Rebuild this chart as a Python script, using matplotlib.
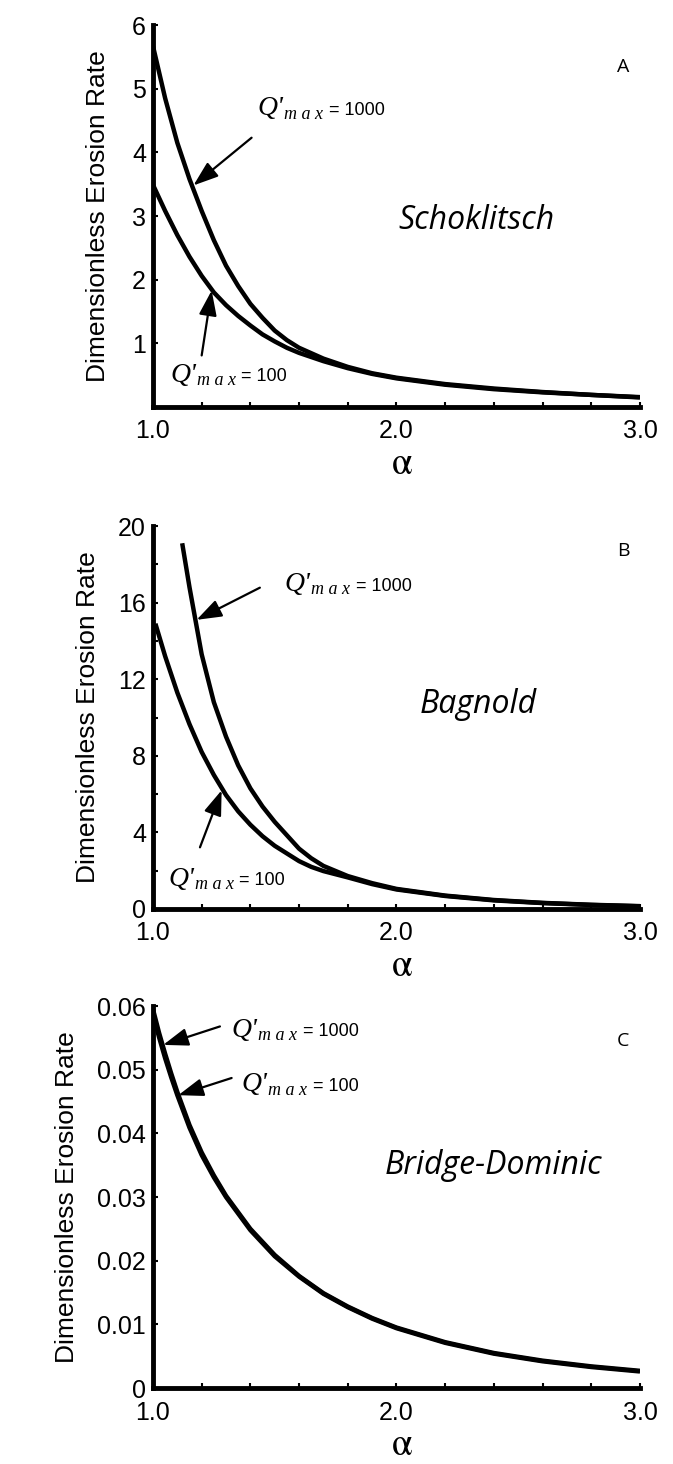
import matplotlib.pyplot as plt
from matplotlib.ticker import FixedLocator, MultipleLocator

plt.rcParams['mathtext.fontset'] = 'stix'
plt.rcParams['font.family'] = 'Liberation Sans'

# %% Data
# A: Schoklitsch
alpha_a = [1.0, 1.05, 1.1, 1.15, 1.2, 1.25, 1.3, 1.35, 1.4, 1.45, 1.5, 1.55,
           1.6, 1.7, 1.8, 1.9, 2.0, 2.2, 2.4, 2.6, 2.8, 3.0]
schok_1000 = [5.67, 4.85, 4.15, 3.58, 3.08, 2.62, 2.22, 1.9, 1.62, 1.4, 1.2, 1.05,
              0.93, 0.76, 0.63, 0.53, 0.46, 0.36, 0.29, 0.235, 0.19, 0.155]
schok_100 = [3.49, 3.08, 2.70, 2.36, 2.06, 1.80, 1.60, 1.43, 1.28, 1.14, 1.03, 0.93,
             0.85, 0.72, 0.61, 0.52, 0.45, 0.35, 0.28, 0.23, 0.19, 0.15]

# B: Bagnold (Q'max = 1000 curve starts off the top of the axes)
alpha_b_1000 = [1.12, 1.15, 1.2, 1.25, 1.3, 1.35, 1.4, 1.45, 1.5, 1.55, 1.6,
                1.65, 1.7, 1.8, 1.9, 2.0, 2.2, 2.4, 2.6, 2.8, 3.0]
bagnold_1000 = [19.1, 16.8, 13.3, 10.8, 9.0, 7.5, 6.3, 5.35, 4.55, 3.85, 3.15,
                2.65, 2.25, 1.72, 1.35, 1.05, 0.7, 0.47, 0.32, 0.22, 0.15]
alpha_b_100 = [1.01, 1.05, 1.1, 1.15, 1.2, 1.25, 1.3, 1.35, 1.4, 1.45, 1.5, 1.55,
               1.6, 1.65, 1.7, 1.8, 1.9, 2.0, 2.2, 2.4, 2.6, 2.8, 3.0]
bagnold_100 = [14.9, 13.2, 11.3, 9.65, 8.2, 7.0, 5.95, 5.1, 4.4, 3.8, 3.3, 2.9,
               2.5, 2.2, 1.98, 1.65, 1.3, 1.02, 0.68, 0.45, 0.31, 0.21, 0.14]

# C: Bridge-Dominic
alpha_c = [1.0, 1.025, 1.05, 1.075, 1.1, 1.15, 1.2, 1.25, 1.3, 1.4, 1.5, 1.6,
           1.7, 1.8, 1.9, 2.0, 2.2, 2.4, 2.6, 2.8, 3.0]
bd_1000 = [0.0595, 0.0558, 0.0525, 0.0494, 0.0465, 0.0413, 0.0370, 0.0334, 0.0302,
           0.0250, 0.0209, 0.0176, 0.0149, 0.0128, 0.0110, 0.0095, 0.0072, 0.0055,
           0.0043, 0.0034, 0.0027]
bd_100 = [0.0587, 0.0551, 0.0518, 0.0488, 0.0460, 0.0409, 0.0366, 0.0331, 0.0300,
          0.0248, 0.0207, 0.0175, 0.0148, 0.0127, 0.0109, 0.0094, 0.0071, 0.0054,
          0.0042, 0.0033, 0.0026]

x_ticks = [1.0, 2.0, 3.0]
x_ticklabels = ['1.0', '2.0', '3.0']

# %% Figure and axes
fig = plt.figure(figsize=(6.73, 14.64), dpi=100)
ax_a = fig.add_axes([0.2273, 0.7220, 0.7236, 0.2609])
ax_b = fig.add_axes([0.2273, 0.3791, 0.7236, 0.2616])
ax_c = fig.add_axes([0.2273, 0.0519, 0.7236, 0.2609])


def style_axes(ax, ylim, yticks, yticklabels, yminor, label_x):
    ax.set_xlim(1.0, 3.0)
    ax.set_ylim(*ylim)
    for side in ['top', 'right']:
        ax.spines[side].set_visible(False)
    for side in ['left', 'bottom']:
        ax.spines[side].set_linewidth(3.5)
        ax.spines[side].set_capstyle('projecting')
    ax.xaxis.set_major_locator(FixedLocator(x_ticks))
    ax.set_xticklabels(x_ticklabels)
    ax.xaxis.set_minor_locator(MultipleLocator(0.2))
    ax.yaxis.set_major_locator(FixedLocator(yticks))
    ax.set_yticklabels(yticklabels)
    if yminor:
        ax.yaxis.set_minor_locator(MultipleLocator(yminor))
    ax.tick_params(axis='both', which='both', direction='in', width=1.5,
                   length=3.5, labelsize=18)
    ax.tick_params(axis='x', pad=9)
    ax.tick_params(axis='y', pad=5)
    # alpha is placed by its baseline so the glyph hugs the tick labels
    ax.set_xlabel(r'$\mathrm{\alpha}$', fontsize=27, va='baseline')
    ax.xaxis.set_label_coords(0.512, -0.175)
    ax.set_ylabel('Dimensionless Erosion Rate', fontsize=19, va='center')
    ax.yaxis.set_label_coords(label_x, 0.5)


def q_label(ax, x, y, value):
    # Q' in Times italic, "max" as a lowered italic subscript, then "= value"
    t1 = ax.text(x, y, "Q'", fontsize=20, family='Liberation Serif',
                 style='italic', va='baseline', ha='left')
    t2 = ax.annotate('m a x', xy=(1, 0), xycoords=t1, xytext=(0.5, 2.0),
                     textcoords='offset points', fontsize=13,
                     family='Liberation Serif', style='italic', va='baseline')
    ax.annotate('= ' + value, xy=(1, 0), xycoords=t2, xytext=(4, 5.5),
                textcoords='offset points', fontsize=13, va='baseline')


def arrow(ax, tail, head):
    ax.annotate('', xy=head, xytext=tail,
                arrowprops=dict(arrowstyle='-|>,head_length=0.9,head_width=0.32',
                                color='black', lw=1.6, mutation_scale=17,
                                shrinkA=0, shrinkB=0))


# %% Panel A
ax_a.plot(alpha_a, schok_1000, color='black', lw=3.2, solid_capstyle='butt')
ax_a.plot(alpha_a, schok_100, color='black', lw=3.2, solid_capstyle='butt')
style_axes(ax_a, (0, 6), [1, 2, 3, 4, 5, 6], ['1', '2', '3', '4', '5', '6'],
           None, -0.113)
arrow(ax_a, (1.405, 4.23), (1.166, 3.48))
arrow(ax_a, (1.20, 0.81), (1.241, 1.83))
q_label(ax_a, 1.43, 4.58, '1000')
q_label(ax_a, 1.07, 0.40, '100')
ax_a.text(2.33, 2.93, 'Schoklitsch', style='italic', fontsize=23,
          family='Open Sans', ha='center', va='center')
ax_a.text(2.93, 5.34, 'A', fontsize=14, family='Open Sans', ha='center', va='center')

# %% Panel B
ax_b.plot(alpha_b_1000, bagnold_1000, color='black', lw=3.2, solid_capstyle='butt')
ax_b.plot(alpha_b_100, bagnold_100, color='black', lw=3.2, solid_capstyle='butt')
style_axes(ax_b, (0, 20), [0, 4, 8, 12, 16, 20],
           ['0', '4', '8', '12', '16', '20'], 2, -0.133)
arrow(ax_b, (1.439, 16.78), (1.179, 15.1))
arrow(ax_b, (1.193, 3.22), (1.282, 6.2))
q_label(ax_b, 1.54, 16.6, '1000')
q_label(ax_b, 1.063, 1.22, '100')
ax_b.text(2.335, 10.67, 'Bagnold', style='italic', fontsize=23,
          family='Open Sans', ha='center', va='center')
ax_b.text(2.93, 18.7, 'B', fontsize=14, family='Open Sans', ha='center', va='center')

# %% Panel C
ax_c.plot(alpha_c, bd_1000, color='black', lw=3.2, solid_capstyle='butt')
ax_c.plot(alpha_c, bd_100, color='black', lw=3.2, solid_capstyle='butt')
style_axes(ax_c, (0, 0.06), [0, 0.01, 0.02, 0.03, 0.04, 0.05, 0.06],
           ['0', '0.01', '0.02', '0.03', '0.04', '0.05', '0.06'], None, -0.177)
arrow(ax_c, (1.275, 0.0568), (1.042, 0.0539))
arrow(ax_c, (1.323, 0.0487), (1.104, 0.0460))
q_label(ax_c, 1.323, 0.0552, '1000')
q_label(ax_c, 1.364, 0.0466, '100')
ax_c.text(2.40, 0.035, 'Bridge-Dominic', style='italic', fontsize=23,
          family='Open Sans', ha='center', va='center')
ax_c.text(2.93, 0.0545, 'C', fontsize=14, family='Open Sans', ha='center', va='center')

fig.savefig('out.png', dpi=100)
